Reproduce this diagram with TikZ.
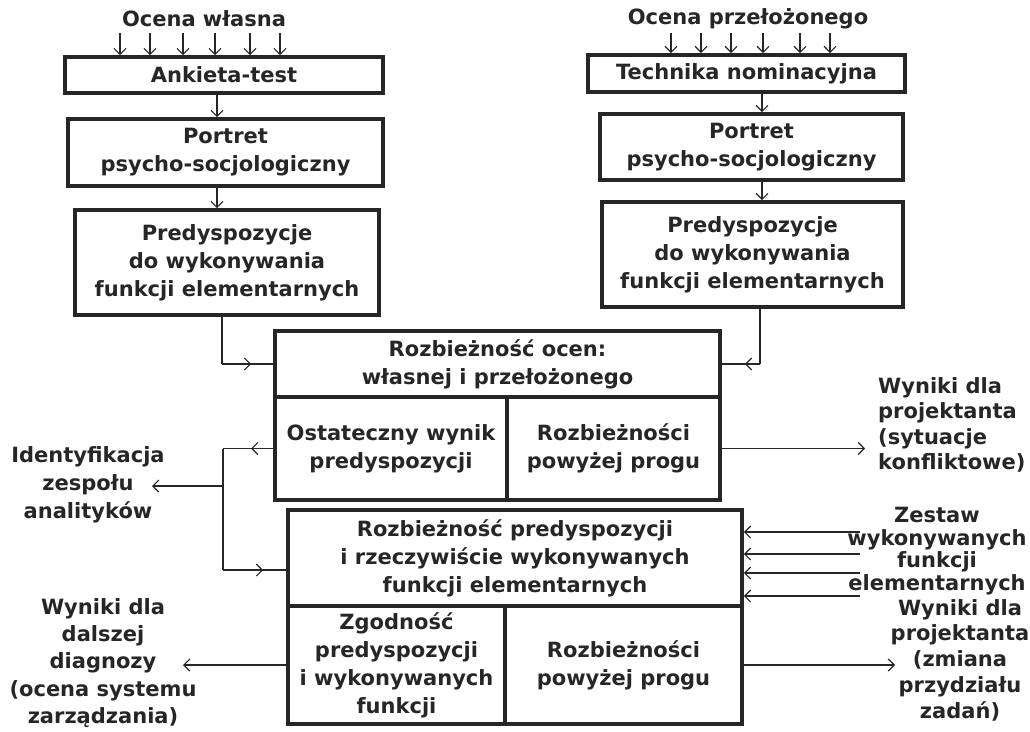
\documentclass[tikz,border=0pt]{standalone}
\usepackage{fontspec}
\setmainfont{DejaVu Sans}
\usetikzlibrary{arrows.meta,decorations.markings}
\definecolor{ink}{gray}{0.15}
\newcommand\rbox[6]{%
  \node[boxst, minimum width={#4-#2}, minimum height={#5-#3}] (#1) at ({(#2+#4)/2},{(#3+#5)/2}) {#6};}
\begin{document}
\begin{tikzpicture}[x=1pt,y=-1pt, color=ink,
  boxst/.style={draw, line width=3.6pt, inner sep=0pt, align=center,
    font=\bfseries\fontsize{21}{28}\selectfont},
  lab/.style={inner sep=0pt, align=center, font=\bfseries\fontsize{21}{#1}\selectfont},
  lab/.default=28,
  conn/.style={line width=1.2pt},
  >={Straight Barb[length=6pt,width=12pt]},
  midarr/.style={postaction={decorate},
    decoration={markings, mark=at position #1 with {\arrow{Straight Barb[length=6pt,width=12pt]}}}}
]
\useasboundingbox (0,0) rectangle (1030,731);

% ---------- left column ----------
\node[lab] (ow) at (204,19) {Ocena własna};
\rbox{ank}{65}{57}{383}{93}{Ankieta-test}
\rbox{lp}{68}{119}{383}{186}{Portret\\psycho-socjologiczny}
\rbox{lpd}{75}{210}{379}{315}{Predyspozycje\\do wykonywania\\funkcji elementarnych}

% ---------- right column ----------
\node[lab] (op) at (748,19) {Ocena przełożonego};
\rbox{tech}{588}{55}{905}{92}{Technika nominacyjna}
\rbox{rp}{600}{114}{903}{180}{Portret\\psycho-socjologiczny}
\rbox{rpd}{602}{202}{903}{307}{Predyspozycje\\do wykonywania\\funkcji elementarnych}

% ---------- central box 1 ----------
\rbox{b1t}{275}{331}{720}{397}{Rozbieżność ocen:\\własnej i przełożonego}
\rbox{b1l}{275}{397}{507}{500}{Ostateczny wynik\\predyspozycji}
\rbox{b1r}{507}{397}{720}{500}{Rozbieżności\\powyżej progu}

% ---------- central box 2 ----------
\rbox{b2t}{288}{510}{742}{606}{Rozbieżność predyspozycji\\i rzeczywiście wykonywanych\\funkcji elementarnych}
\rbox{b2l}{288}{606}{505}{724}{Zgodność\\predyspozycji\\i wykonywanych\\funkcji}
\rbox{b2r}{505}{606}{742}{724}{Rozbieżności\\powyżej progu}

% ---------- outside labels ----------
\node[lab, align=left, anchor=west, font=\bfseries\fontsize{21}{25.3}\selectfont] (wp1) at (878,425)
  {Wyniki dla\\projektanta\\(sytuacje\\konfliktowe)};
\node[lab=28] (ident) at (88,485) {Identyfikacja\\zespołu\\analityków};
\node[lab=22.7] (zest) at (937,551) {Zestaw\\wykonywanych\\funkcji\\elementarnych};
\node[lab=25.7] (wp2) at (960,660) {Wyniki dla\\projektanta\\(zmiana\\przydziału\\zadań)};
\node[lab=27.2] (wdd) at (103,663) {Wyniki dla\\dalszej\\diagnozy\\(ocena systemu\\zarządzania)};

% ---------- connectors: top inputs ----------
\foreach \xx [count=\i] in {120,150,183,215,250,280} {
  \coordinate (la\i) at (\xx,33);
  \draw[conn,->] (la\i) -- (la\i |- ank.north);
}
\foreach \xx [count=\i] in {671,701,731,763,800,830} {
  \coordinate (ra\i) at (\xx,33);
  \draw[conn,->] (ra\i) -- (ra\i |- tech.north);
}

% ---------- connectors: columns ----------
\coordinate (lx) at (217,0);
\coordinate (rx) at (762,0);
\draw[conn,->] (ank.south -| lx) -- (lp.north -| lx);
\draw[conn,->] (lp.south -| lx) -- (lpd.north -| lx);
\draw[conn,->] (tech.south -| rx) -- (rp.north -| rx);
\draw[conn,->] (rp.south -| rx) -- (rpd.north -| rx);

\coordinate (j1) at (222,364);
\coordinate (j2) at (760,364);
\draw[conn] (lpd.south -| j1) -- (j1);
\draw[conn, midarr=-22pt] (j1) -- (j1 -| b1t.west);
\draw[conn] (rpd.south -| j2) -- (j2);
\draw[conn, midarr=-23pt] (j2) -- (j2 -| b1t.east);

% ---------- connectors: left trunk ----------
\coordinate (trunk) at (223,0);
\coordinate (trm) at (223,486);
\coordinate (trb) at (223,570);
\coordinate (idt) at (152,486);
\draw[conn, midarr=-28pt] (b1l.west) -- (b1l.west -| trunk);
\draw[conn] (b1l.west -| trunk) -- (trb);
\draw[conn, midarr=-23pt] (trb) -- (trb -| b2t.west);
\draw[conn,->] (trm) -- (idt);

% ---------- connectors: right side ----------
\coordinate (rt1) at (865,0);
\draw[conn,->] (b1r.east) -- (b1r.east -| rt1);
\foreach \yy [count=\i] in {532,554,573,596} {
  \coordinate (zs\i) at (860,\yy);
  \draw[conn,->] (zs\i) -- (zs\i -| b2t.east);
}
\coordinate (rt2) at (895,0);
\draw[conn,->] (b2r.east) -- (b2r.east -| rt2);
\coordinate (lt2) at (183,0);
\draw[conn,->] (b2l.west) -- (b2l.west -| lt2);
\end{tikzpicture}
\end{document}
